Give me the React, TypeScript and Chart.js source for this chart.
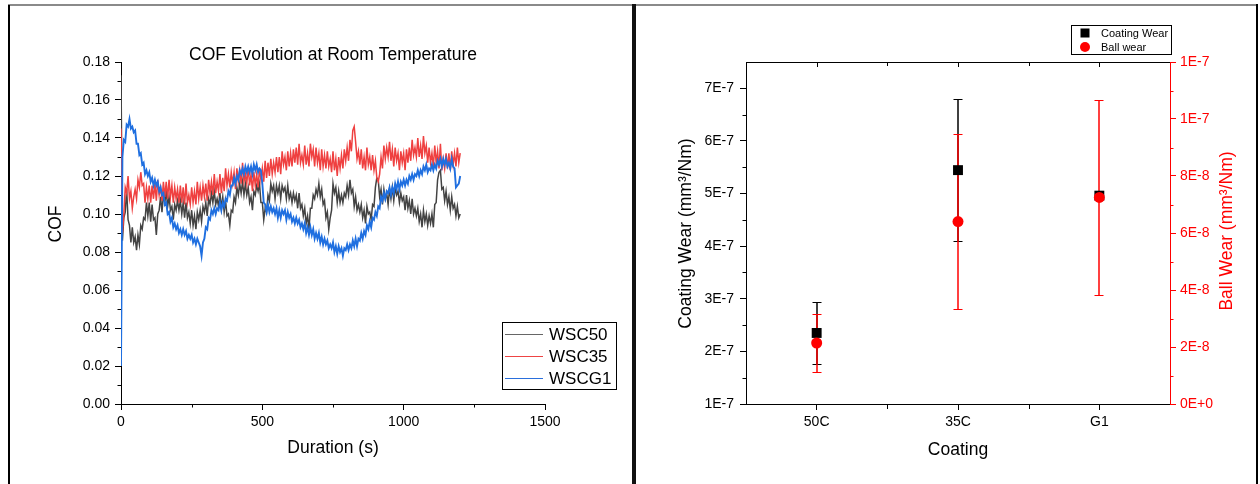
import React, { useEffect, useRef } from 'react';
import { Chart, registerables } from 'chart.js';

Chart.register(...registerables);

const FONT = "'Liberation Sans', Arial, Helvetica, sans-serif";

// ---------- Left panel: COF evolution ----------
const SAMPLE_INTERVAL_S = 5;

const WSC50 = [
  0.173, 0.086, 0.098, 0.101, 0.113, 0.097, 0.094, 0.085, 0.093, 0.085,
  0.088, 0.081, 0.089, 0.084, 0.094, 0.092, 0.098, 0.097, 0.106, 0.099,
  0.106, 0.096, 0.105, 0.097, 0.098, 0.089, 0.100, 0.102, 0.109, 0.101,
  0.110, 0.106, 0.112, 0.104, 0.109, 0.102, 0.104, 0.097, 0.105, 0.102,
  0.107, 0.102, 0.107, 0.100, 0.106, 0.098, 0.106, 0.098, 0.101, 0.095,
  0.102, 0.094, 0.099, 0.092, 0.101, 0.097, 0.102, 0.096, 0.104, 0.101,
  0.106, 0.099, 0.108, 0.105, 0.111, 0.106, 0.112, 0.105, 0.108, 0.104,
  0.111, 0.103, 0.109, 0.101, 0.107, 0.099, 0.100, 0.094, 0.102, 0.101,
  0.109, 0.106, 0.114, 0.110, 0.116, 0.111, 0.117, 0.110, 0.116, 0.110,
  0.114, 0.106, 0.109, 0.102, 0.112, 0.110, 0.115, 0.112, 0.116, 0.106,
  0.106, 0.097, 0.103, 0.101, 0.110, 0.107, 0.116, 0.112, 0.115, 0.108,
  0.115, 0.111, 0.115, 0.108, 0.115, 0.112, 0.114, 0.108, 0.115, 0.108,
  0.111, 0.106, 0.111, 0.107, 0.110, 0.103, 0.111, 0.103, 0.105, 0.099,
  0.103, 0.095, 0.099, 0.092, 0.103, 0.103, 0.110, 0.108, 0.113, 0.110,
  0.116, 0.109, 0.113, 0.105, 0.107, 0.098, 0.101, 0.092, 0.098, 0.102,
  0.116, 0.111, 0.114, 0.106, 0.112, 0.106, 0.110, 0.106, 0.111, 0.109,
  0.115, 0.110, 0.118, 0.111, 0.113, 0.104, 0.109, 0.102, 0.105, 0.101,
  0.105, 0.098, 0.102, 0.095, 0.104, 0.100, 0.101, 0.097, 0.105, 0.104,
  0.114, 0.119, 0.118, 0.109, 0.113, 0.105, 0.113, 0.108, 0.111, 0.105,
  0.113, 0.108, 0.114, 0.107, 0.114, 0.110, 0.112, 0.106, 0.111, 0.107,
  0.109, 0.102, 0.110, 0.103, 0.107, 0.100, 0.108, 0.100, 0.103, 0.099,
  0.103, 0.096, 0.100, 0.093, 0.102, 0.096, 0.100, 0.094, 0.099, 0.095,
  0.100, 0.093, 0.105, 0.106, 0.118, 0.122, 0.123, 0.113, 0.114, 0.107,
  0.112, 0.105, 0.109, 0.102, 0.109, 0.103, 0.105, 0.099, 0.104, 0.098,
  0.100,
];

const WSC35 = [
  0.145, 0.090, 0.100, 0.114, 0.111, 0.120, 0.108, 0.112, 0.103, 0.109,
  0.113, 0.108, 0.118, 0.114, 0.122, 0.115, 0.116, 0.106, 0.114, 0.108,
  0.115, 0.106, 0.115, 0.108, 0.116, 0.107, 0.118, 0.110, 0.114, 0.107,
  0.117, 0.109, 0.117, 0.108, 0.118, 0.109, 0.115, 0.106, 0.114, 0.108,
  0.113, 0.106, 0.115, 0.106, 0.114, 0.105, 0.116, 0.106, 0.110, 0.105,
  0.114, 0.106, 0.112, 0.105, 0.117, 0.108, 0.114, 0.107, 0.115, 0.109,
  0.116, 0.107, 0.118, 0.111, 0.117, 0.110, 0.121, 0.111, 0.117, 0.112,
  0.121, 0.111, 0.119, 0.112, 0.124, 0.115, 0.121, 0.114, 0.122, 0.116,
  0.122, 0.113, 0.124, 0.117, 0.123, 0.116, 0.127, 0.117, 0.121, 0.116,
  0.125, 0.115, 0.121, 0.112, 0.122, 0.115, 0.121, 0.114, 0.124, 0.118,
  0.124, 0.117, 0.128, 0.119, 0.127, 0.120, 0.129, 0.121, 0.127, 0.122,
  0.130, 0.122, 0.130, 0.121, 0.133, 0.126, 0.130, 0.123, 0.133, 0.125,
  0.132, 0.125, 0.134, 0.127, 0.135, 0.126, 0.137, 0.127, 0.131, 0.126,
  0.136, 0.126, 0.132, 0.125, 0.137, 0.130, 0.134, 0.125, 0.135, 0.127,
  0.132, 0.123, 0.134, 0.125, 0.131, 0.124, 0.133, 0.125, 0.129, 0.122,
  0.133, 0.123, 0.129, 0.120, 0.130, 0.124, 0.131, 0.124, 0.134, 0.128,
  0.135, 0.128, 0.139, 0.133, 0.144, 0.146, 0.138, 0.129, 0.133, 0.126,
  0.134, 0.124, 0.130, 0.123, 0.135, 0.126, 0.130, 0.123, 0.131, 0.123,
  0.128, 0.119, 0.117, 0.121, 0.130, 0.124, 0.136, 0.129, 0.135, 0.130,
  0.138, 0.128, 0.134, 0.125, 0.135, 0.128, 0.132, 0.123, 0.133, 0.127,
  0.132, 0.123, 0.134, 0.127, 0.135, 0.128, 0.139, 0.131, 0.135, 0.130,
  0.140, 0.130, 0.136, 0.129, 0.141, 0.132, 0.136, 0.127, 0.135, 0.127,
  0.132, 0.125, 0.136, 0.127, 0.133, 0.124, 0.137, 0.123, 0.129, 0.124,
  0.132, 0.124, 0.132, 0.123, 0.133, 0.126, 0.132, 0.125, 0.135, 0.127,
  0.132,
];

const WSCG1 = [
  0.020, 0.130, 0.139, 0.138, 0.147, 0.146, 0.150, 0.145, 0.146, 0.143,
  0.144, 0.137, 0.137, 0.131, 0.132, 0.126, 0.127, 0.121, 0.123, 0.120,
  0.122, 0.117, 0.119, 0.115, 0.118, 0.115, 0.117, 0.112, 0.114, 0.110,
  0.111, 0.105, 0.106, 0.100, 0.101, 0.096, 0.098, 0.093, 0.095, 0.092,
  0.094, 0.090, 0.092, 0.089, 0.092, 0.089, 0.091, 0.087, 0.089, 0.087,
  0.089, 0.085, 0.087, 0.084, 0.087, 0.085, 0.083, 0.078, 0.085, 0.087,
  0.093, 0.092, 0.098, 0.097, 0.102, 0.100, 0.103, 0.100, 0.103, 0.102,
  0.106, 0.102, 0.106, 0.104, 0.108, 0.107, 0.112, 0.110, 0.115, 0.115,
  0.119, 0.116, 0.120, 0.118, 0.123, 0.121, 0.124, 0.121, 0.125, 0.122,
  0.125, 0.122, 0.125, 0.121, 0.126, 0.123, 0.126, 0.122, 0.124, 0.123,
  0.116, 0.106, 0.105, 0.101, 0.105, 0.101, 0.104, 0.101, 0.103, 0.100,
  0.103, 0.098, 0.102, 0.098, 0.102, 0.100, 0.102, 0.097, 0.101, 0.098,
  0.100, 0.096, 0.098, 0.095, 0.098, 0.095, 0.097, 0.093, 0.095, 0.092,
  0.095, 0.090, 0.093, 0.089, 0.093, 0.089, 0.092, 0.087, 0.090, 0.087,
  0.090, 0.085, 0.088, 0.084, 0.087, 0.084, 0.086, 0.082, 0.084, 0.082,
  0.085, 0.080, 0.083, 0.079, 0.083, 0.080, 0.082, 0.078, 0.082, 0.081,
  0.084, 0.081, 0.084, 0.082, 0.086, 0.083, 0.087, 0.083, 0.087, 0.086,
  0.090, 0.087, 0.091, 0.089, 0.094, 0.092, 0.096, 0.093, 0.098, 0.097,
  0.101, 0.099, 0.104, 0.103, 0.109, 0.107, 0.111, 0.108, 0.112, 0.111,
  0.114, 0.110, 0.114, 0.111, 0.116, 0.113, 0.117, 0.113, 0.117, 0.115,
  0.118, 0.115, 0.118, 0.116, 0.120, 0.118, 0.121, 0.118, 0.121, 0.120,
  0.123, 0.120, 0.123, 0.121, 0.125, 0.123, 0.126, 0.122, 0.124, 0.123,
  0.126, 0.123, 0.126, 0.124, 0.128, 0.126, 0.129, 0.125, 0.129, 0.126,
  0.129, 0.125, 0.127, 0.124, 0.129, 0.125, 0.124, 0.114, 0.115, 0.116,
  0.120,
];

const COF_SERIES_NAMES = ['WSC50', 'WSC35', 'WSCG1'];
const DURATION_TICKS = [0, 500, 1000, 1500];
const COF_TICKS = [0, 0.02, 0.04, 0.06, 0.08, 0.1, 0.12, 0.14, 0.16, 0.18];
const COF_TITLE = 'COF Evolution at Room Temperature';

// ---------- Right panel: wear ----------
const COATINGS = ['50C', '35C', 'G1'];
const COATING_WEAR = [2.35e-7, 5.445e-7, 4.96e-7];
const COATING_WEAR_SD = [0.59e-7, 1.345e-7, 0];
const BALL_WEAR = [2.14e-8, 6.4e-8, 7.25e-8];
const BALL_WEAR_SD = [1.015e-8, 3.065e-8, 3.43e-8];
const COATING_TICK_VALUES = [1e-7, 2e-7, 3e-7, 4e-7, 5e-7, 6e-7, 7e-7];
const COATING_TICK_LABELS = ['1E-7', '2E-7', '3E-7', '4E-7', '5E-7', '6E-7', '7E-7'];
const BALL_TICK_VALUES = [0, 2e-8, 4e-8, 6e-8, 8e-8, 1e-7, 1.2e-7];
const BALL_TICK_LABELS = ['0E+0', '2E-8', '4E-8', '6E-8', '8E-8', '1E-7', '1E-7'];

// ---------- styles ----------
const LINE_COLORS = ['#434343', '#ef4040', '#1f6fe0'];
const LEGEND_LINE_COLORS = ['#666666', '#ee4444', '#2a6fdc'];
const LINE_WIDTHS = [1.5, 1.5, 1.9];
const RED = '#ff0000';

const midpoints = (arr: number[]) => arr.slice(0, -1).map((v, i) => (v + arr[i + 1]) / 2);

const cofDecor = {
  id: 'cofDecor',
  afterDraw(chart: any) {
    const { ctx, chartArea: a, scales } = chart;
    const xs = scales.x;
    const ys = scales.y;
    ctx.save();
    ctx.strokeStyle = '#000';
    ctx.lineWidth = 1;
    ctx.beginPath();
    midpoints(DURATION_TICKS).forEach((v) => {
      const px = Math.round(xs.getPixelForValue(v)) + 0.5;
      ctx.moveTo(px, a.bottom);
      ctx.lineTo(px, a.bottom + 3.5);
    });
    midpoints(COF_TICKS).forEach((v) => {
      const py = Math.round(ys.getPixelForValue(v)) + 0.5;
      ctx.moveTo(a.left - 3.5, py);
      ctx.lineTo(a.left, py);
    });
    ctx.stroke();

    ctx.fillStyle = '#000';
    ctx.textAlign = 'center';
    ctx.textBaseline = 'middle';
    ctx.font = `17.5px ${FONT}`;
    const cx = (a.left + a.right) / 2;
    ctx.fillText(COF_TITLE, cx, 55);
    ctx.fillText('Duration (s)', cx, 448);
    ctx.save();
    ctx.translate(56, 224);
    ctx.rotate(-Math.PI / 2);
    ctx.fillText('COF', 0, 0);
    ctx.restore();

    // legend
    ctx.lineWidth = 1;
    ctx.strokeStyle = '#000';
    ctx.strokeRect(502.5, 322.5, 114, 67);
    ctx.font = `17px ${FONT}`;
    ctx.textAlign = 'left';
    COF_SERIES_NAMES.forEach((name, i) => {
      const y = 334 + i * 22;
      ctx.strokeStyle = LEGEND_LINE_COLORS[i];
      ctx.lineWidth = 1;
      ctx.beginPath();
      ctx.moveTo(505, y + 0.5);
      ctx.lineTo(543, y + 0.5);
      ctx.stroke();
      ctx.fillStyle = '#000';
      ctx.fillText(name, 549, y + 1);
    });
    ctx.restore();
  },
};

function drawErrorBars(ctx: any, xs: any, ys: any, values: number[], sds: number[], color: string) {
  values.forEach((v, i) => {
    const sd = sds[i];
    if (!sd) return;
    const px = Math.round(xs.getPixelForValue(i + 1));
    const top = Math.round(ys.getPixelForValue(v + sd)) + 0.5;
    const bot = Math.round(ys.getPixelForValue(v - sd)) + 0.5;
    ctx.strokeStyle = color;
    ctx.lineWidth = 1.5;
    ctx.beginPath();
    ctx.moveTo(px, top);
    ctx.lineTo(px, bot);
    ctx.stroke();
    ctx.lineWidth = 1;
    ctx.beginPath();
    ctx.moveTo(px - 4.5, top);
    ctx.lineTo(px + 4.5, top);
    ctx.moveTo(px - 4.5, bot);
    ctx.lineTo(px + 4.5, bot);
    ctx.stroke();
  });
}

const wearDecor = {
  id: 'wearDecor',
  beforeDatasetsDraw(chart: any) {
    const { ctx, scales } = chart;
    ctx.save();
    drawErrorBars(ctx, scales.x, scales.y, COATING_WEAR, COATING_WEAR_SD, '#000000');
    drawErrorBars(ctx, scales.x, scales.y2, BALL_WEAR, BALL_WEAR_SD, RED);
    ctx.restore();
  },
  afterDraw(chart: any) {
    const { ctx, chartArea: a, scales } = chart;
    const xs = scales.x;
    ctx.save();
    ctx.lineWidth = 1;
    // bottom minor + top inward ticks
    ctx.strokeStyle = '#000';
    ctx.beginPath();
    const catPos = COATINGS.map((_, i) => i + 1);
    midpoints(catPos).forEach((v) => {
      const px = Math.round(xs.getPixelForValue(v)) + 0.5;
      ctx.moveTo(px, a.bottom);
      ctx.lineTo(px, a.bottom + 5);
      ctx.moveTo(px, a.top);
      ctx.lineTo(px, a.top + 4);
    });
    catPos.forEach((v) => {
      const px = Math.round(xs.getPixelForValue(v)) + 0.5;
      ctx.moveTo(px, a.top);
      ctx.lineTo(px, a.top + 5);
    });
    midpoints(COATING_TICK_VALUES).forEach((v) => {
      const py = Math.round(scales.y.getPixelForValue(v)) + 0.5;
      ctx.moveTo(a.left - 3.5, py);
      ctx.lineTo(a.left, py);
    });
    ctx.stroke();
    ctx.strokeStyle = RED;
    ctx.beginPath();
    midpoints(BALL_TICK_VALUES).forEach((v) => {
      const py = Math.round(scales.y2.getPixelForValue(v)) + 0.5;
      ctx.moveTo(a.right, py);
      ctx.lineTo(a.right + 3.5, py);
    });
    ctx.stroke();

    // axis titles
    ctx.textAlign = 'center';
    ctx.textBaseline = 'middle';
    ctx.font = `17.5px ${FONT}`;
    ctx.fillStyle = '#000';
    ctx.fillText('Coating', (a.left + a.right) / 2, 450);
    ctx.save();
    ctx.translate(50, 233.5);
    ctx.rotate(-Math.PI / 2);
    ctx.fillText('Coating Wear (mm³/Nm)', 0, 0);
    ctx.restore();
    ctx.save();
    ctx.fillStyle = RED;
    ctx.translate(591, 231);
    ctx.rotate(-Math.PI / 2);
    ctx.fillText('Ball Wear (mm³/Nm)', 0, 0);
    ctx.restore();

    // legend
    ctx.strokeStyle = '#000';
    ctx.lineWidth = 1;
    ctx.strokeRect(435.5, 25.5, 100, 29);
    ctx.fillStyle = '#000';
    ctx.fillRect(444.5, 28.5, 9, 9);
    ctx.fillStyle = RED;
    ctx.beginPath();
    ctx.arc(449, 47, 5, 0, Math.PI * 2);
    ctx.fill();
    ctx.fillStyle = '#000';
    ctx.textAlign = 'left';
    ctx.font = `11px ${FONT}`;
    ctx.fillText('Coating Wear', 465, 33.5);
    ctx.fillText('Ball wear', 465, 47.5);
    ctx.restore();
  },
};

const axisCommon = (color: string) => ({
  grid: { display: true, drawOnChartArea: false, drawTicks: true, tickLength: 6, tickColor: color, tickWidth: 1 },
  border: { display: true, color, width: 1 },
});

export default function App() {
  const leftRef = useRef<HTMLCanvasElement>(null);
  const rightRef = useRef<HTMLCanvasElement>(null);

  useEffect(() => {
    const tickFont = { family: FONT, size: 14 };
    const series = [WSC50, WSC35, WSCG1];
    const left = new Chart(leftRef.current as HTMLCanvasElement, {
      type: 'line',
      data: {
        datasets: series.map((s, k) => ({
          label: COF_SERIES_NAMES[k],
          data: s.map((v, i) => ({ x: i * SAMPLE_INTERVAL_S, y: v })),
          borderColor: LINE_COLORS[k],
          backgroundColor: LINE_COLORS[k],
          borderWidth: LINE_WIDTHS[k],
          pointRadius: 0,
          tension: 0,
          fill: false,
          order: 3 - k,
        })),
      },
      options: {
        animation: false,
        responsive: false,
        events: [],
        layout: { padding: { left: 0, right: 87, top: 62, bottom: 0 } },
        plugins: { legend: { display: false }, tooltip: { enabled: false }, title: { display: false } },
        scales: {
          x: {
            type: 'linear',
            min: 0,
            max: 1500,
            afterFit: (s: any) => { s.height = 80; },
            afterBuildTicks: (s: any) => { s.ticks = DURATION_TICKS.map((v) => ({ value: v })); },
            ticks: { autoSkip: false, maxRotation: 0, padding: 4, color: '#000', font: tickFont, callback: (v: any) => String(v) },
            ...axisCommon('#000'),
          },
          y: {
            type: 'linear',
            min: 0,
            max: 0.18,
            afterFit: (s: any) => { s.width = 121; },
            afterBuildTicks: (s: any) => { s.ticks = COF_TICKS.map((v) => ({ value: v })); },
            ticks: { autoSkip: false, padding: 5, color: '#000', font: tickFont, callback: (v: any) => Number(v).toFixed(2) },
            ...axisCommon('#000'),
          },
        },
      } as any,
      plugins: [cofDecor],
    });

    const right = new Chart(rightRef.current as HTMLCanvasElement, {
      type: 'scatter',
      data: {
        datasets: [
          {
            label: 'Coating Wear',
            data: COATING_WEAR.map((v, i) => ({ x: i + 1, y: v })),
            yAxisID: 'y',
            xAxisID: 'x',
            pointStyle: 'rect',
            pointRadius: 7,
            backgroundColor: '#000',
            borderColor: '#000',
            borderWidth: 0,
            order: 2,
          },
          {
            label: 'Ball wear',
            data: BALL_WEAR.map((v, i) => ({ x: i + 1, y: v })),
            yAxisID: 'y2',
            xAxisID: 'x',
            pointStyle: 'circle',
            pointRadius: 5.5,
            backgroundColor: RED,
            borderColor: RED,
            borderWidth: 0,
            order: 1,
          },
        ],
      },
      options: {
        animation: false,
        responsive: false,
        events: [],
        layout: { padding: { left: 0, right: 0, top: 62, bottom: 0 } },
        plugins: { legend: { display: false }, tooltip: { enabled: false }, title: { display: false } },
        scales: {
          x: {
            type: 'linear',
            position: 'bottom',
            min: 0.5,
            max: 3.5,
            afterFit: (s: any) => { s.height = 80; },
            afterBuildTicks: (s: any) => { s.ticks = COATINGS.map((_, i) => ({ value: i + 1 })); },
            ticks: { autoSkip: false, maxRotation: 0, padding: 4, color: '#000', font: tickFont, callback: (_v: any, i: number) => COATINGS[i] },
            ...axisCommon('#000'),
          },
          xTop: {
            type: 'linear',
            position: 'top',
            min: 0.5,
            max: 3.5,
            afterFit: (s: any) => { s.height = 0; },
            ticks: { display: false },
            grid: { display: true, drawOnChartArea: false, drawTicks: false },
            border: { display: true, color: '#000', width: 1 },
          },
          y: {
            type: 'linear',
            position: 'left',
            min: 1e-7,
            max: 7.5e-7,
            afterFit: (s: any) => { s.width = 110; },
            afterBuildTicks: (s: any) => { s.ticks = COATING_TICK_VALUES.map((v) => ({ value: v })); },
            ticks: { autoSkip: false, padding: 6, color: '#000', font: tickFont, callback: (_v: any, i: number) => COATING_TICK_LABELS[i] },
            ...axisCommon('#000'),
          },
          y2: {
            type: 'linear',
            position: 'right',
            min: 0,
            max: 1.2e-7,
            afterFit: (s: any) => { s.width = 86; },
            afterBuildTicks: (s: any) => { s.ticks = BALL_TICK_VALUES.map((v) => ({ value: v })); },
            ticks: { autoSkip: false, padding: 4, color: RED, font: tickFont, callback: (_v: any, i: number) => BALL_TICK_LABELS[i] },
            ...axisCommon(RED),
          },
        },
      } as any,
      plugins: [wearDecor],
    });

    return () => {
      left.destroy();
      right.destroy();
    };
  }, []);

  const line = (style: React.CSSProperties) => (
    <div style={{ position: 'absolute', ...style }} />
  );

  return (
    <div style={{ position: 'fixed', left: 0, top: 0, width: 1260, height: 484, background: '#fff', overflow: 'hidden' }}>
      <canvas ref={leftRef} width={632} height={484} style={{ position: 'absolute', left: 0, top: 0 }} />
      <canvas ref={rightRef} width={620} height={484} style={{ position: 'absolute', left: 636, top: 0 }} />
      {line({ left: 8, top: 4, width: 1250, height: 2, background: '#8a8a8a' })}
      {line({ left: 8, top: 5, width: 2, height: 479, background: '#000' })}
      {line({ left: 632, top: 4, width: 4, height: 480, background: '#111' })}
      {line({ left: 1256, top: 4, width: 2, height: 480, background: '#000' })}
    </div>
  );
}
